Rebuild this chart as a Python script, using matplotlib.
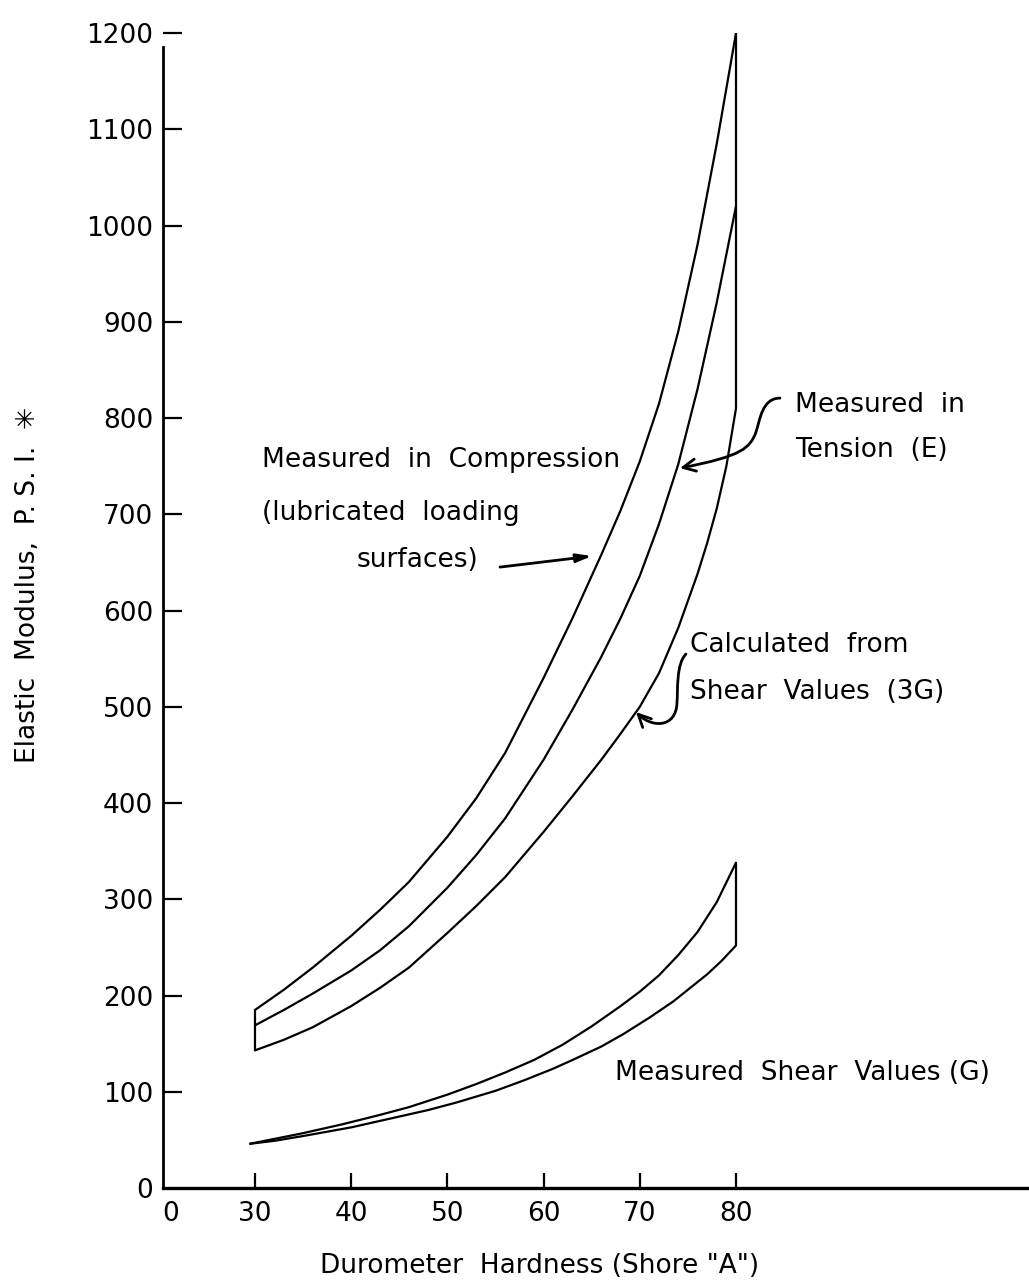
import matplotlib
matplotlib.use("Agg")
import matplotlib.pyplot as plt
from matplotlib.patches import FancyArrowPatch
from matplotlib.path import Path

# Elastic modulus (psi) vs durometer hardness (Shore "A")
comp_x = [30, 33, 36, 40, 43, 46, 50, 53, 56, 60, 63, 66, 68, 70, 72, 74, 76, 78, 80]
comp_y = [185, 206, 229, 262, 289, 318, 365, 405, 452, 530, 592, 658, 704, 755, 815, 890, 980, 1085, 1200]

tens_x = [30, 33, 36, 40, 43, 46, 50, 53, 56, 60, 63, 66, 68, 70, 72, 74, 76, 78, 80]
tens_y = [169, 185, 202, 226, 247, 272, 312, 346, 384, 445, 497, 552, 592, 636, 690, 752, 830, 920, 1020]

calc3g_x = [30, 33, 36, 40, 43, 46, 50, 53, 56, 60, 63, 66, 68, 70, 72, 74, 76, 77, 78, 79, 80]
calc3g_y = [143, 154, 167, 189, 208, 229, 265, 293, 323, 370, 407, 445, 472, 500, 535, 582, 638, 670, 706, 750, 810]

shear_hi_x = [29.5, 32, 35, 39, 43, 46, 50, 53, 56, 59, 62, 65, 68, 70, 72, 74, 76, 78, 80]
shear_hi_y = [46, 51, 57, 66, 76, 84, 97, 108, 120, 133, 149, 168, 189, 204, 221, 242, 266, 297, 338]

shear_lo_x = [29.5, 32, 35, 40, 44, 48, 51, 55, 58, 61, 63, 66, 68.3, 71, 73.5, 75, 77, 78.5, 80]
shear_lo_y = [46, 49, 54, 63, 72, 81, 89, 101, 112, 124, 133, 147, 160, 177, 194, 206, 222, 236, 252]

# the x axis is broken: "0" sits at the origin, then 30..80
x_tick_pos = [21.2, 30, 40, 50, 60, 70, 80]
x_tick_labels = ['0', '30', '40', '50', '60', '70', '80']
y_ticks = list(range(0, 1300, 100))

plt.rcParams['font.family'] = ['DejaVu Sans']
FS = 19

fig = plt.figure(figsize=(10.29, 12.86), dpi=100)
ax = fig.add_axes([0.1584, 0.0762, 0.8416, 0.898])
ax.set_xlim(20.44, 110.46)
ax.set_ylim(0, 1200)


# convert a pixel position on the original drawing to data coords (for labels/arrows)
def px(xp, yp):
    return (30 + (xp - 255) / 9.62, (1188 - yp) / 0.9625)


lw = 1.6
kw = dict(color='black', lw=lw, solid_joinstyle='round', solid_capstyle='round')
ax.plot(comp_x, comp_y, **kw)
ax.plot(tens_x, tens_y, **kw)
ax.plot(calc3g_x, calc3g_y, **kw)
# closing edges of the band
ax.plot([comp_x[0], calc3g_x[0]], [comp_y[0], calc3g_y[0]], **kw)
ax.plot([comp_x[-1], calc3g_x[-1]], [comp_y[-1], calc3g_y[-1]], **kw)

ax.plot(shear_hi_x, shear_hi_y, **kw)
ax.plot(shear_lo_x, shear_lo_y, **kw)
ax.plot([shear_hi_x[-1], shear_lo_x[-1]], [shear_hi_y[-1], shear_lo_y[-1]], **kw)

# axes
for s in ['top', 'right']:
    ax.spines[s].set_visible(False)
ax.spines['left'].set_linewidth(2)
ax.spines['left'].set_bounds(0, 1186)
ax.spines['bottom'].set_linewidth(2.4)

ax.set_xticks(x_tick_pos)
ax.set_xticklabels(x_tick_labels)
ax.set_yticks(y_ticks)
ax.set_yticklabels([str(v) for v in y_ticks])
ax.tick_params(axis='y', direction='in', length=14, width=1.6, pad=7, labelsize=FS)
ax.tick_params(axis='x', direction='in', length=11, width=1.6, pad=9, labelsize=FS)
ax.xaxis.get_major_ticks()[0].tick1line.set_visible(False)
ax.yaxis.get_major_ticks()[0].tick1line.set_visible(False)

# labels
ax.text(*px(262, 460), 'Measured  in  Compression', fontsize=FS, ha='left', va='center')
ax.text(*px(262, 513), '(lubricated  loading', fontsize=FS, ha='left', va='center')
ax.text(*px(357, 560), 'surfaces)', fontsize=FS, ha='left', va='center')
ax.annotate('', xy=px(592, 556), xytext=px(500, 567),
            arrowprops=dict(arrowstyle='-|>,head_length=0.9,head_width=0.25',
                            color='black', lw=2, shrinkA=0, shrinkB=0))

ax.text(*px(795, 405), 'Measured  in', fontsize=FS, ha='left', va='center')
ax.text(*px(795, 450), 'Tension  (E)', fontsize=FS, ha='left', va='center')
p = Path([px(780, 398), px(762, 398), px(760, 420), px(756, 432),
          px(750, 448), px(742, 456), px(680, 468)],
         [Path.MOVETO, Path.CURVE4, Path.CURVE4, Path.CURVE4,
          Path.CURVE4, Path.CURVE4, Path.CURVE4])
ax.add_patch(FancyArrowPatch(path=p, arrowstyle='->,head_length=0.45,head_width=0.22',
                             mutation_scale=20, color='black', lw=2))

ax.text(*px(690, 645), 'Calculated  from', fontsize=FS, ha='left', va='center')
ax.text(*px(690, 692), 'Shear  Values  (3G)', fontsize=FS, ha='left', va='center')
p2 = Path([px(686, 654), px(676, 664), px(678, 690), px(677, 703),
           px(676, 728), px(652, 728), px(636, 712)],
          [Path.MOVETO, Path.CURVE4, Path.CURVE4, Path.CURVE4,
           Path.CURVE4, Path.CURVE4, Path.CURVE4])
ax.add_patch(FancyArrowPatch(path=p2, arrowstyle='->,head_length=0.45,head_width=0.22',
                             mutation_scale=20, color='black', lw=2))

ax.text(*px(615, 1073), 'Measured  Shear  Values (G)', fontsize=FS, ha='left', va='center')

fig.text(28 / 1029, 1 - 585 / 1286, 'Elastic  Modulus,  P. S. I.  \u2733',
         rotation=90, ha='center', va='center', fontsize=FS)
fig.text(540 / 1029, 1 - 1266 / 1286, 'Durometer  Hardness (Shore "A")',
         ha='center', va='center', fontsize=FS)

fig.savefig('out.png', dpi=100, facecolor='white')
